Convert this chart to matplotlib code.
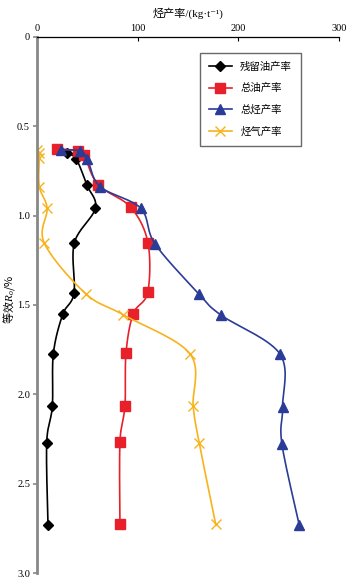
import numpy as np
import matplotlib.pyplot as plt

plt.rcParams['font.family'] = ['Liberation Serif', 'Noto Sans CJK SC', 'DejaVu Sans']
plt.rcParams['axes.unicode_minus'] = False
plt.rcParams['mathtext.fontset'] = 'custom'
plt.rcParams['mathtext.rm'] = 'Noto Sans CJK SC'
plt.rcParams['mathtext.it'] = 'Liberation Serif:italic'

# 等效Ro (%) and yield (kg/t) for each series
ro_res = [0.63, 0.651, 0.685, 0.83, 0.959, 1.154, 1.434, 1.553, 1.773, 2.067, 2.272, 2.728]
res_oil = [21, 29.5, 39, 49.6, 58, 37, 36.7, 25.5, 16.2, 15.2, 9.6, 10.9]

ro_oil = [0.627, 0.637, 0.661, 0.827, 0.953, 1.151, 1.43, 1.549, 1.769, 2.063, 2.268, 2.722]
tot_oil = [20, 40.4, 46.7, 60.6, 93, 110.2, 110, 95.6, 88.4, 87.4, 82.4, 82.4]

ro_hc = [0.633, 0.639, 0.685, 0.838, 0.959, 1.158, 1.439, 1.555, 1.773, 2.07, 2.275, 2.728]
tot_hc = [23.8, 42.7, 50, 62.6, 103, 117.2, 161, 182.4, 241.3, 244, 243.3, 260.5]

ro_gas = [0.633, 0.65, 0.68, 0.838, 0.959, 1.154, 1.437, 1.555, 1.773, 2.067, 2.272, 2.724]
gas = [0, 2.3, 2.3, 2.3, 10, 7.2, 48.4, 85.7, 152, 155.2, 161.2, 177.5]


def smooth(x, y, n=20):
    # Catmull-Rom curve through the points, for the smoothed line only
    p = np.column_stack([x, y]).astype(float)
    p = np.vstack([p[0], p, p[-1]])
    out = []
    t = np.linspace(0, 1, n, endpoint=False)[:, None]
    for i in range(1, len(p) - 2):
        p0, p1, p2, p3 = p[i - 1], p[i], p[i + 1], p[i + 2]
        seg = 0.5 * ((2 * p1) + (-p0 + p2) * t + (2 * p0 - 5 * p1 + 4 * p2 - p3) * t ** 2
                     + (-p0 + 3 * p1 - 3 * p2 + p3) * t ** 3)
        out.append(seg)
    out.append(p[-2][None, :])
    out = np.vstack(out)
    return out[:, 0], out[:, 1]


fig = plt.figure(figsize=(3.56, 5.83), dpi=100)
ax = fig.add_axes([0.104, 0.0166, 0.848, 0.9205])

series = [
    (res_oil, ro_res, 'black', 'D', 5, '残留油产率'),
    (tot_oil, ro_oil, '#e8202a', 's', 7, '总油产率'),
    (tot_hc, ro_hc, '#2b3c96', '^', 7, '总烃产率'),
    (gas, ro_gas, '#f7b21c', 'x', 7, '烃气产率'),
]
for xv, yv, c, m, ms, lab in series:
    sx, sy = smooth(xv, yv)
    ax.plot(sx, sy, color=c, lw=1.2)
    ax.plot(xv, yv, ls='none', marker=m, ms=ms, color=c, mew=1.0)
    ax.plot([], [], color=c, lw=1.2, marker=m, ms=ms, mew=1.0, label=lab)

ax.set_xlim(0, 300)
ax.set_ylim(3.0, 0)
ax.xaxis.tick_top()
ax.xaxis.set_label_position('top')
ax.set_xticks([0, 100, 200, 300])
ax.set_yticks([0, 0.5, 1.0, 1.5, 2.0, 2.5, 3.0])
ax.set_yticklabels(['0', '0.5', '1.0', '1.5', '2.0', '2.5', '3.0'])
ax.tick_params(axis='x', direction='in', length=3, labelsize=7.5, pad=3, width=0.8)
ax.tick_params(axis='y', direction='out', length=3, labelsize=7.5, pad=2, color='#888888', width=1.2)
ax.set_xlabel('烃产率/(kg·t⁻¹)', fontsize=8, labelpad=5)
ax.set_ylabel(r'$\mathrm{等效}R_o\mathrm{/\%}$', fontsize=8)
ax.yaxis.set_label_coords(-0.066, 0.51)

ax.spines['right'].set_visible(False)
ax.spines['bottom'].set_visible(False)
ax.spines['left'].set_color('#888888')
ax.spines['left'].set_linewidth(2)
ax.spines['top'].set_linewidth(0.9)

leg = ax.legend(loc='upper right', bbox_to_anchor=(0.874, 0.97), fontsize=7.5,
                frameon=True, fancybox=False, edgecolor='#444444', labelspacing=1.1,
                handlelength=2.2, borderpad=0.85, handletextpad=0.8, borderaxespad=0)
leg.get_frame().set_linewidth(1.0)

fig.savefig('out.png', dpi=100)
